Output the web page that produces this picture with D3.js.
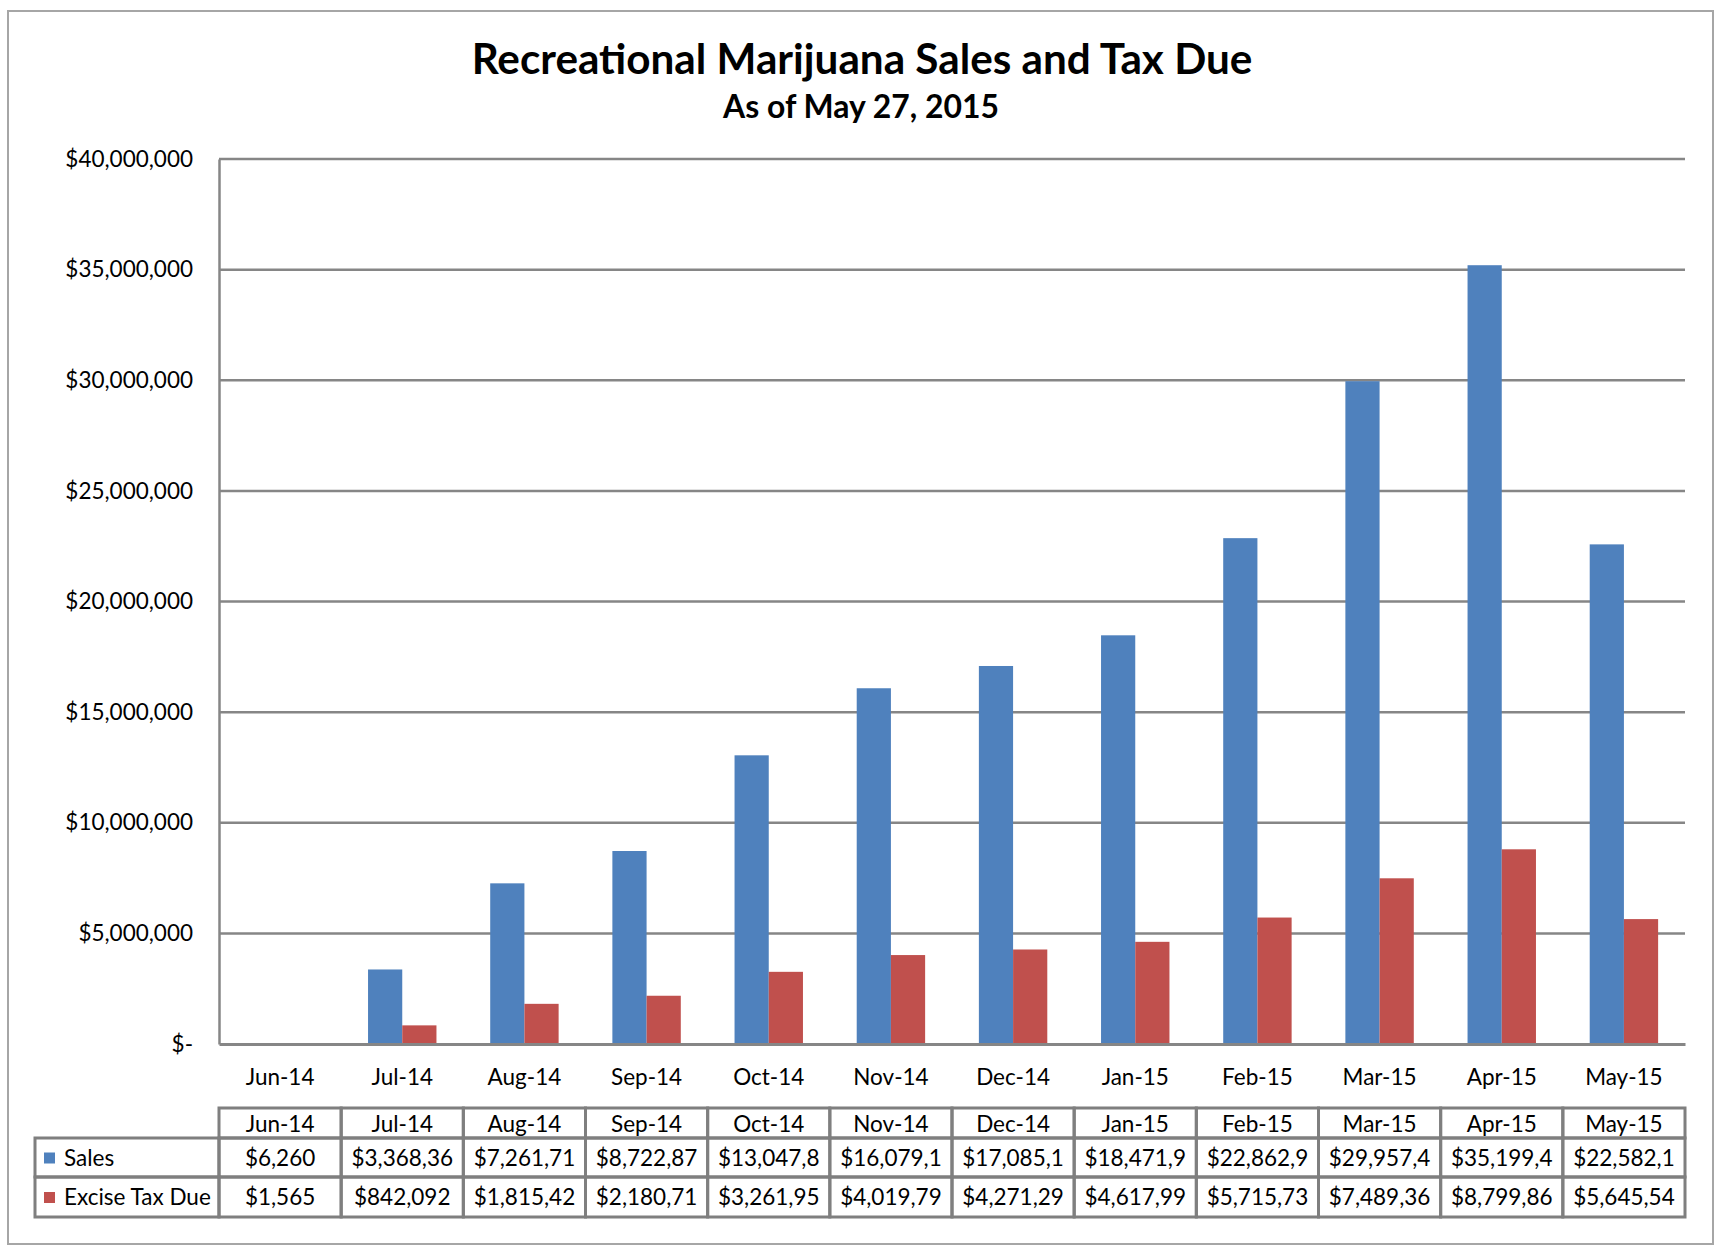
<!DOCTYPE html>
<html>
<head>
<meta charset="utf-8">
<script src="https://cdn.jsdelivr.net/npm/d3@7"></script>
<style>
  body { margin: 0; background: #fff; }
  text { font-family: Lato, 'Open Sans', sans-serif; fill: #000; }
</style>
</head>
<body>
<svg width="1724" height="1246"></svg>
<script>
const months = ['Jun-14', 'Jul-14', 'Aug-14', 'Sep-14', 'Oct-14', 'Nov-14',
  'Dec-14', 'Jan-15', 'Feb-15', 'Mar-15', 'Apr-15', 'May-15']
const sales = [6260, 3368360, 7261710, 8722870, 13047800, 16079100,
  17085100, 18471900, 22862900, 29957400, 35199400, 22582100]
const exciseTax = [1565, 842092, 1815420, 2180710, 3261950, 4019790,
  4271290, 4617990, 5715730, 7489360, 8799860, 5645540]
const seriesNames = ['Sales', 'Excise Tax Due']
const seriesColors = ['#4f81bd', '#c0504d']
const yTicks = [0, 5000000, 10000000, 15000000, 20000000, 25000000, 30000000, 35000000, 40000000]

const svg = d3.select('svg')
const margin = { top: 159, left: 219, right: 39, bottom: 202 }
const width = +svg.attr('width') - margin.left - margin.right
const height = +svg.attr('height') - margin.top - margin.bottom

// chart border
svg.append('rect')
  .attr('x', 8).attr('y', 11).attr('width', 1705).attr('height', 1233)
  .attr('fill', 'none').attr('stroke', '#a6a6a6').attr('stroke-width', 2)

// titles, sized to the reference widths
const fitText = (sel, target) => {
  let w = sel.node().getComputedTextLength()
  let fs = parseFloat(sel.attr('font-size'))
  sel.attr('font-size', fs * target / w)
}
let title = svg.append('text')
  .attr('x', 862).attr('y', 74).attr('text-anchor', 'middle')
  .attr('font-weight', 'bold').attr('font-size', 40)
  .text('Recreational Marijuana Sales and Tax Due')
fitText(title, 781)
let subtitle = svg.append('text')
  .attr('x', 861).attr('y', 118).attr('text-anchor', 'middle')
  .attr('font-weight', 'bold').attr('font-size', 30)
  .text('As of May 27, 2015')
fitText(subtitle, 276)

const g = svg.append('g').attr('transform', `translate(${margin.left},${margin.top})`)

const x = d3.scaleBand().domain(months).range([0, width]).paddingInner(0.44).paddingOuter(0.22)
const xs = d3.scaleBand().domain(seriesNames).range([0, x.bandwidth()])
const y = d3.scaleLinear().domain([0, 40000000]).range([height, 0])

// gridlines
g.append('g')
  .selectAll('line').data(yTicks.slice(1)).enter().append('line')
  .attr('x1', 0).attr('x2', width)
  .attr('y1', d => y(d)).attr('y2', d => y(d))
  .attr('stroke', '#868686').attr('stroke-width', 2.5)

// y axis
let yAxis = g.append('g')
  .call(d3.axisLeft(y).tickValues(yTicks).tickSize(0).tickPadding(26)
    .tickFormat(d => d === 0 ? '$-' : d3.format('$,')(d)))
yAxis.select('.domain').attr('stroke', '#868686').attr('stroke-width', 2.5)
yAxis.selectAll('text').attr('font-size', 22.5).attr('font-family', null).attr('fill', '#000')

// bars
const seriesData = [sales, exciseTax]
months.forEach((m, i) => {
  g.selectAll('.bar-' + i).data(seriesNames).enter().append('rect')
    .attr('class', 'bar-' + i)
    .attr('x', s => x(m) + xs(s))
    .attr('width', xs.bandwidth())
    .attr('y', (s, j) => y(seriesData[j][i]))
    .attr('height', (s, j) => height - y(seriesData[j][i]))
    .attr('fill', (s, j) => seriesColors[j])
})

// x axis
let xAxis = g.append('g').attr('transform', `translate(0,${height})`)
  .call(d3.axisBottom(x).tickSize(0).tickPadding(0))
xAxis.select('.domain').attr('stroke', '#868686').attr('stroke-width', 3)
xAxis.selectAll('text').attr('font-size', 22.5).attr('font-family', null).attr('fill', '#000')
  .attr('dy', 0).attr('y', 41)

// data table
const rowTop = [height + 64, height + 94, height + 133, height + 173]
const cellLeft = d => x(d) - (x.step() - x.bandwidth()) / 2
const tableLeft = 35 - margin.left
const table = g.append('g')
const lineColor = '#7f7f7f'

// header row cells
table.selectAll('.hdr').data(months).enter().append('rect')
  .attr('x', d => cellLeft(d)).attr('y', rowTop[0])
  .attr('width', x.step()).attr('height', rowTop[1] - rowTop[0])
  .attr('fill', 'none').attr('stroke', lineColor).attr('stroke-width', 3)
table.selectAll('.hdrText').data(months).enter().append('text')
  .attr('x', d => cellLeft(d) + x.step() / 2).attr('y', rowTop[1] - 6)
  .attr('text-anchor', 'middle').attr('font-size', 22.5)
  .text(d => d)

const fmt = d3.format('$,')
seriesNames.forEach((s, j) => {
  let top = rowTop[j + 1]
  let h = rowTop[j + 2] - top
  table.append('rect')
    .attr('x', tableLeft).attr('y', top).attr('width', -tableLeft).attr('height', h)
    .attr('fill', 'none').attr('stroke', lineColor).attr('stroke-width', 3)
  table.append('rect')
    .attr('x', tableLeft + 9).attr('y', top + h / 2 - 5).attr('width', 11).attr('height', 11)
    .attr('fill', seriesColors[j])
  table.append('text')
    .attr('x', tableLeft + 29).attr('y', top + h / 2 + 8).attr('font-size', 22.5)
    .text(s)

  table.selectAll('.cell' + j).data(months).enter().append('rect')
    .attr('x', d => cellLeft(d)).attr('y', top)
    .attr('width', x.step()).attr('height', h)
    .attr('fill', 'none').attr('stroke', lineColor).attr('stroke-width', 3)
  table.selectAll('.val' + j).data(months).enter().append('text')
    .attr('x', d => cellLeft(d) + x.step() / 2).attr('y', top + h / 2 + 8)
    .attr('text-anchor', 'middle').attr('font-size', 22.5)
    .text((d, i) => fmt(seriesData[j][i]))
    .each(function () {
      // the table clips values that do not fit in the cell
      let t = d3.select(this)
      let str = t.text()
      while (this.getComputedTextLength() > x.step() - 12 && str.length > 1) {
        str = str.slice(0, -1)
        t.text(str)
      }
    })
})
</script>
</body>
</html>
